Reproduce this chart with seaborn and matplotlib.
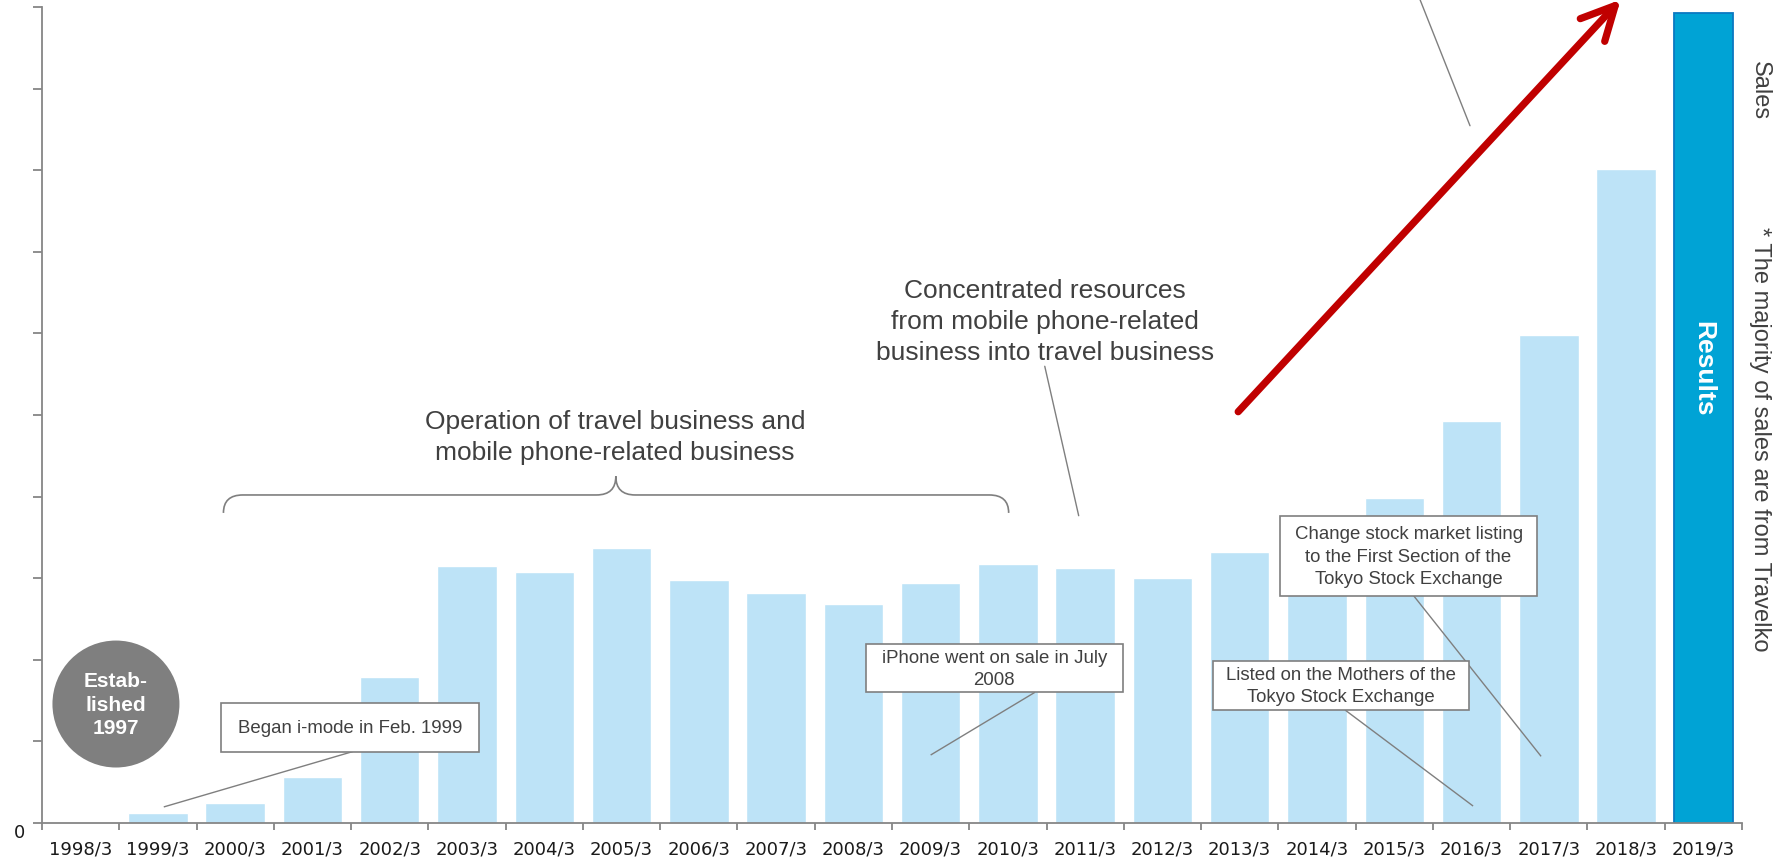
import matplotlib
matplotlib.use('Agg')
import matplotlib.pyplot as plt
import seaborn as sns
import pandas as pd
import numpy as np
from matplotlib.patches import Rectangle, Ellipse, PathPatch
from matplotlib.path import Path
from matplotlib.transforms import ScaledTranslation

# ---------------- data ----------------
periods = ['1998/3', '1999/3', '2000/3', '2001/3', '2002/3', '2003/3', '2004/3',
           '2005/3', '2006/3', '2007/3', '2008/3', '2009/3', '2010/3', '2011/3',
           '2012/3', '2013/3', '2014/3', '2015/3', '2016/3', '2017/3', '2018/3',
           '2019/3']
sales = [0.0, 0.12, 0.24, 0.56, 1.79, 3.15, 3.07, 3.37, 2.98, 2.82, 2.68,
         2.94, 3.18, 3.12, 3.00, 3.32, 3.55, 3.98, 4.93, 5.98, 8.02, 9.93]
kind = ['past'] * 21 + ['results']
y_ticks = list(range(11))
y_tick_labels = ['0'] + [''] * 10

# ---------------- style ----------------
sns.set_theme(style='white')
plt.rcParams['font.family'] = ['Liberation Sans', 'DejaVu Sans']

GREY = '#7F7F7F'
TXT = '#404040'
LIGHT = '#BDE3F7'
DARK = '#00A3D5'

fig = plt.figure(figsize=(17.78, 8.62), dpi=100)
ax = fig.add_axes([0.02362, 0.04408, 0.95613, 0.94664])

df = pd.DataFrame({'period': periods, 'sales': sales, 'kind': kind})
sns.barplot(data=df, x='period', y='sales', hue='kind', hue_order=['past', 'results'],
            palette={'past': LIGHT, 'results': DARK}, saturation=1, width=0.77,
            dodge=False, legend=False, ax=ax, zorder=2)
for bar in ax.containers[1]:
    bar.set_edgecolor('#0B78C2')
    bar.set_linewidth(1.3)

ax.set_xlim(-0.5, 21.5)
ax.set_ylim(0, 10)
ax.set_xlabel('')
ax.set_ylabel('')
for s in ['top', 'right']:
    ax.spines[s].set_visible(False)
for s in ['left', 'bottom']:
    ax.spines[s].set_color('#868686')
    ax.spines[s].set_linewidth(1.3)

ax.set_xticks(range(len(periods)))
ax.set_xticklabels(periods, fontsize=13, family='DejaVu Sans', color='#1a1a1a')
ax.set_xticks(np.arange(-0.5, len(periods), 1.0), minor=True)
ax.tick_params(axis='x', which='major', length=0, pad=12, bottom=True)
ax.tick_params(axis='x', which='minor', length=4.8, width=1.3, color='#868686',
               direction='out', bottom=True)
ax.set_yticks(y_ticks)
ax.set_yticklabels(y_tick_labels, fontsize=13, family='DejaVu Sans', color='#1a1a1a')
ax.tick_params(axis='y', which='major', length=6.8, width=1.3, color='#868686',
               direction='out', left=True, pad=5)
for lab in ax.get_yticklabels():
    lab.set_transform(lab.get_transform() + ScaledTranslation(0, -5 / 72, fig.dpi_scale_trans))

# ---------------- established circle ----------------
ax.add_patch(Ellipse((0.0435, 0.1458), 0.0747, 0.1556, transform=ax.transAxes,
                     fc=GREY, ec='none', zorder=3, clip_on=False))
ax.text(0.0435, 0.1458, 'Estab-\nlished\n1997', transform=ax.transAxes, ha='center',
        va='center', color='white', fontsize=15, fontweight='bold', linespacing=1.32,
        zorder=4)

# ---------------- callout boxes ----------------
def callout(x0, y0, w, h, text, line):
    ax.plot(line[0], line[1], color=GREY, lw=1.0, zorder=4, solid_capstyle='butt')
    ax.add_patch(Rectangle((x0, y0), w, h, fc='white', ec=GREY, lw=1.2, zorder=5))
    ax.text(x0 + w / 2, y0 + h / 2, text, ha='center', va='center', fontsize=13.4,
            color=TXT, zorder=6, linespacing=1.4)

callout(1.814, 0.875, 3.344, 0.597, 'Began i-mode in Feb. 1999',
        ([3.52, 1.076], [0.875, 0.197]))
callout(10.16, 1.602, 3.326, 0.592, 'iPhone went on sale in July\n2008',
        ([12.35, 11.0], [1.602, 0.833]))
callout(14.655, 1.385, 3.31, 0.60, 'Listed on the Mothers of the\nTokyo Stock Exchange',
        ([16.363, 18.02], [1.385, 0.208]))
callout(15.52, 2.78, 3.33, 0.98,
        'Change stock market listing\nto the First Section of the\nTokyo Stock Exchange',
        ([17.25, 18.90], [2.786, 0.817]))

# ---------------- big labels ----------------
ax.text(6.915, 4.74, 'Operation of travel business and\nmobile phone-related business',
        ha='center', va='center', fontsize=19, color=TXT, linespacing=1.37)
ax.text(12.477, 6.156, 'Concentrated resources\nfrom mobile phone-related\nbusiness into travel business',
        ha='center', va='center', fontsize=19, color=TXT, linespacing=1.37)
ax.plot([12.477, 12.916], [5.597, 3.766], color=GREY, lw=1.0, zorder=4)

# curly brace
xl, xr, xm = 1.848, 12.01, 6.926
yb, yl, yp = 3.80, 4.02, 4.249
r = 0.25
verts = [(xl, yb), (xl, yl), (xl + r, yl),
         (xm - r, yl), (xm, yl), (xm, yp),
         (xm, yl), (xm + r, yl),
         (xr - r, yl), (xr, yl), (xr, yb)]
codes = [Path.MOVETO, Path.CURVE3, Path.CURVE3,
         Path.LINETO, Path.CURVE3, Path.CURVE3,
         Path.CURVE3, Path.CURVE3,
         Path.LINETO, Path.CURVE3, Path.CURVE3]
ax.add_patch(PathPatch(Path(verts, codes), fc='none', ec=GREY, lw=1.2, zorder=4))

# ---------------- red growth arrow ----------------
ann = ax.annotate('', xy=(19.93, 10.09), xytext=(14.98, 5.04), xycoords='data',
                  annotation_clip=False,
                  arrowprops=dict(arrowstyle='->,head_length=1.2,head_width=0.6',
                                  lw=5.2, color='#C00000', capstyle='round',
                                  joinstyle='round', mutation_scale=20,
                                  shrinkA=0, shrinkB=0))
ann.arrow_patch.set_clip_on(False)
ann.arrow_patch.set_zorder(7)

# leader line from the top (cropped label)
ax.plot([17.33, 17.98], [10.098, 8.545], color=GREY, lw=1.0, clip_on=False, zorder=4)

# ---------------- results label ----------------
ax.text(21, 5.58, 'Results', rotation=-90, ha='center', va='center', color='white',
        fontsize=19, fontweight='bold', zorder=6)

# ---------------- right side notes ----------------
narrow = ['Liberation Sans Narrow', 'Liberation Sans', 'DejaVu Sans']
fig.text(0.9899, 0.895, 'Sales', rotation=-90, ha='center', va='center', fontsize=17,
         color=TXT, family=narrow)
fig.text(0.9899, 0.4907, '* The majority of sales are from Travelko', rotation=-90,
         ha='center', va='center', fontsize=17, color=TXT, family=narrow)

fig.savefig('out.png', dpi=100)
